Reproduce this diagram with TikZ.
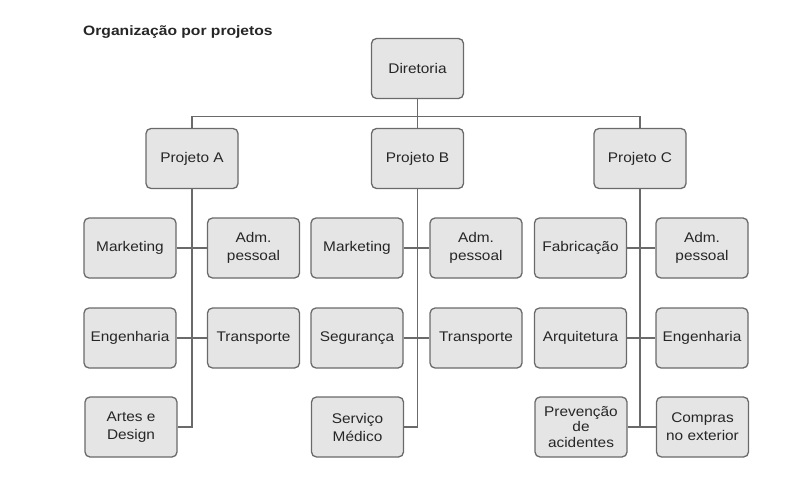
\documentclass[tikz,border=0pt]{standalone}
\usepackage{fontspec}
\setmainfont{Liberation Sans}[FakeStretch=1.1]
\newfontfamily\titlefont{Liberation Sans}[FakeStretch=1.15]
\definecolor{boxfill}{HTML}{E5E5E5}
\definecolor{boxline}{HTML}{6A6A6A}
\definecolor{txt}{HTML}{262626}
\begin{document}
\begin{tikzpicture}[x=1pt,y=-1pt,
  orgbox/.style={draw=boxline, fill=boxfill, line width=1.3pt, rounded corners=5pt,
    minimum width=92pt, minimum height=60pt, inner sep=1pt, align=center,
    text=txt, font=\fontsize{14}{18}\selectfont},
  tight/.style={font=\fontsize{14}{15.5}\selectfont},
  link/.style={draw=boxline, line width=1.3pt}]
\useasboundingbox (0,0) rectangle (802,481);
\node[anchor=west, text=txt, font=\titlefont\fontsize{13.6}{16}\selectfont\bfseries, inner sep=0] (title) at (83,32) {Organização por projetos};
\node[orgbox] (dir) at (417.5,68.5) {Diretoria};
\node[orgbox] (pA) at (192,158.5) {Projeto A};
\node[orgbox] (pB) at (417.5,158.5) {Projeto B};
\node[orgbox] (pC) at (640,158.5) {Projeto C};
% Projeto A
\node[orgbox] (a1) at (130,248) {Marketing};
\node[orgbox] (a2) at (253.5,248) {Adm.\\pessoal};
\node[orgbox] (a3) at (130,338) {Engenharia};
\node[orgbox] (a4) at (253.5,338) {Transporte};
\node[orgbox] (a5) at (131,427) {Artes e\\Design};
% Projeto B
\node[orgbox] (b1) at (357,248) {Marketing};
\node[orgbox] (b2) at (476,248) {Adm.\\pessoal};
\node[orgbox] (b3) at (357,338) {Segurança};
\node[orgbox] (b4) at (476,338) {Transporte};
\node[orgbox] (b5) at (357.5,427) {Serviço\\Médico};
% Projeto C
\node[orgbox] (c1) at (580.5,248) {Fabricação};
\node[orgbox] (c2) at (702,248) {Adm.\\pessoal};
\node[orgbox] (c3) at (580.5,338) {Arquitetura};
\node[orgbox] (c4) at (702,338) {Engenharia};
\node[orgbox, tight] (c5) at (581,427) {Prevenção\\de\\acidentes};
\node[orgbox] (c6) at (702.5,427) {Compras\\no exterior};
\coordinate (cEnd) at (640,428);
% connectors
\draw[link] (dir.south) -- (pB.north);
\draw[link] (pA.north) -- ++(0,-11) -| (pC.north);
\draw[link] (pA.south) |- (a5.east);
\draw[link] (a1.east) -- (a2.west);
\draw[link] (a3.east) -- (a4.west);
\draw[link] (pB.south) |- (b5.east);
\draw[link] (b1.east) -- (b2.west);
\draw[link] (b3.east) -- (b4.west);
\draw[link] (pC.south) -- (cEnd);
\draw[link] (c1.east) -- (c2.west);
\draw[link] (c3.east) -- (c4.west);
\draw[link] (c5.east) -- (c6.west);
\end{tikzpicture}
\end{document}
